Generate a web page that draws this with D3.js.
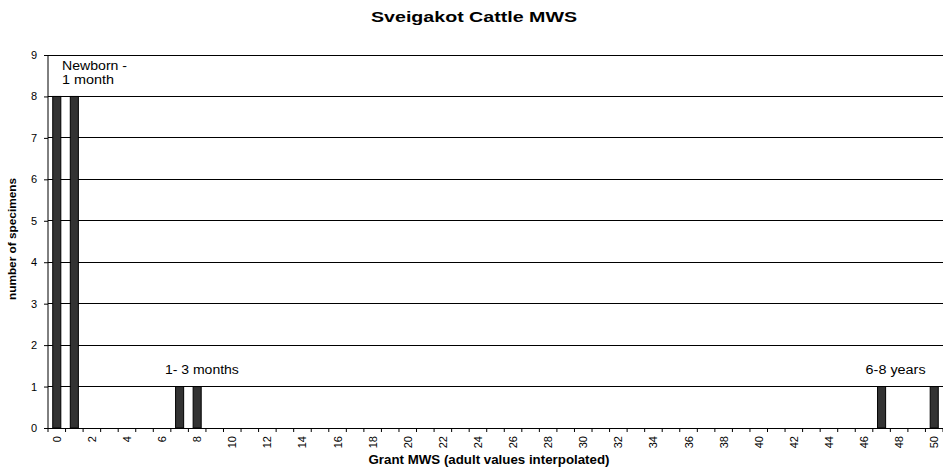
<!DOCTYPE html>
<html><head><meta charset="utf-8">
<script src="https://cdn.jsdelivr.net/npm/d3@7"></script>
<style>body{margin:0;background:#fff}svg{display:block;font-family:"Liberation Sans",Arial,sans-serif}</style>
</head><body><svg id="c" width="943" height="468"></svg>
<script>
const categories = d3.range(0, 51);
const counts = [8,8,0,0,0,0,0,1,1,0,0,0,0,0,0,0,0,0,0,0,0,0,0,0,0,0,0,0,0,0,0,0,0,0,0,0,0,0,0,0,0,0,0,0,0,0,0,1,0,0,1];
const yTicks = [0,1,2,3,4,5,6,7,8,9];
const xTickLabels = categories.filter(d => d % 2 === 0);
const annotations = [
  {pos: 0.8, val: 9, lines: ["Newborn -", "1 month"], anchor: "start", len: [65, 52]},
  {pos: 8.77, val: 1, lines: ["1- 3 months"], anchor: "middle", len: [74]},
  {pos: 48.3, val: 1, lines: ["6-8 years"], anchor: "middle", len: [60]}
];
const title = "Sveigakot Cattle MWS";
const xTitle = "Grant MWS (adult values interpolated)";
const yTitle = "number of specimens";

const svg = d3.select("#c");
const m = {l: 48, r: 0, t: 55, b: 40};
const W = 943, H = 468;
const x = d3.scaleBand().domain(categories).range([m.l, W - m.r]).padding(0);
const xc = d3.scaleLinear().domain([0, categories.length]).range([m.l, W - m.r]);
const y = d3.scaleLinear().domain([0, 9]).range([428, 55]);

// gridlines
svg.append("g").selectAll("line").data(yTicks.filter(d => d > 0)).join("line")
  .attr("x1", m.l).attr("x2", W).attr("y1", d => y(d)).attr("y2", d => y(d))
  .attr("stroke", "#000").attr("stroke-width", 1).attr("shape-rendering", "crispEdges");

// bars
const bw = x.bandwidth() * 0.46;
svg.append("g").selectAll("rect").data(categories.map((c, i) => ({c, v: counts[i]})).filter(d => d.v > 0)).join("rect")
  .attr("x", d => x(d.c) + x.bandwidth() / 2 - bw / 2)
  .attr("y", d => y(d.v))
  .attr("width", bw)
  .attr("height", d => y(0) - y(d.v))
  .attr("fill", "#333").attr("stroke", "#000").attr("stroke-width", 1);

// y axis
const yAxis = svg.append("g").attr("transform", `translate(${m.l},0)`)
  .call(d3.axisLeft(y).tickValues(yTicks).tickSize(4).tickPadding(7).tickFormat(d3.format("d")));
yAxis.select(".domain").attr("stroke", "#000").attr("d", `M0,${y(9)}V${y(0)}`);
yAxis.selectAll("text").attr("font-size", 11).attr("font-family", "Liberation Sans, Arial, sans-serif").attr("fill", "#000");

// x axis: ticks at category boundaries
const xg = svg.append("g").attr("transform", `translate(0,${y(0)})`);
xg.append("line").attr("x1", m.l).attr("x2", W).attr("stroke", "#000").attr("shape-rendering", "crispEdges");
const bounds = categories.map(c => x(c)).concat([x(50) + x.bandwidth()]);
xg.selectAll("line.tk").data(bounds).join("line").attr("class", "tk")
  .attr("x1", d => d).attr("x2", d => d).attr("y1", 0).attr("y2", 4).attr("stroke", "#000");
xg.selectAll("text").data(xTickLabels).join("text")
  .attr("transform", d => `translate(${x(d) + x.bandwidth() / 2 + 4},8) rotate(-90)`)
  .attr("text-anchor", "end").attr("font-size", 11).text(d => d);

// annotations
annotations.forEach(a => {
  const ax = xc(a.pos);
  a.lines.forEach((l, i) => {
    const yy = a.lines.length > 1 ? y(a.val) + 15 + i * 14 : y(a.val) - 13;
    svg.append("text").attr("x", ax).attr("y", yy).attr("text-anchor", a.anchor)
      .attr("font-size", 12).attr("textLength", a.len[i]).attr("lengthAdjust", "spacingAndGlyphs").text(l);
  });
});

// titles
svg.append("text").attr("x", 474).attr("y", 22).attr("text-anchor", "middle")
  .attr("font-size", 14).attr("font-weight", "bold")
  .attr("textLength", 206).attr("lengthAdjust", "spacingAndGlyphs").text(title);
svg.append("text").attr("x", 489).attr("y", 464).attr("text-anchor", "middle")
  .attr("font-size", 13).attr("font-weight", "bold")
  .attr("textLength", 241).attr("lengthAdjust", "spacingAndGlyphs").text(xTitle);
svg.append("text").attr("transform", `translate(16,239) rotate(-90)`).attr("text-anchor", "middle")
  .attr("font-size", 11).attr("font-weight", "bold").attr("textLength", 122).attr("lengthAdjust", "spacingAndGlyphs")
  .attr("font-family", "Liberation Sans Narrow, Liberation Sans, Arial, sans-serif").text(yTitle);
</script></body></html>
